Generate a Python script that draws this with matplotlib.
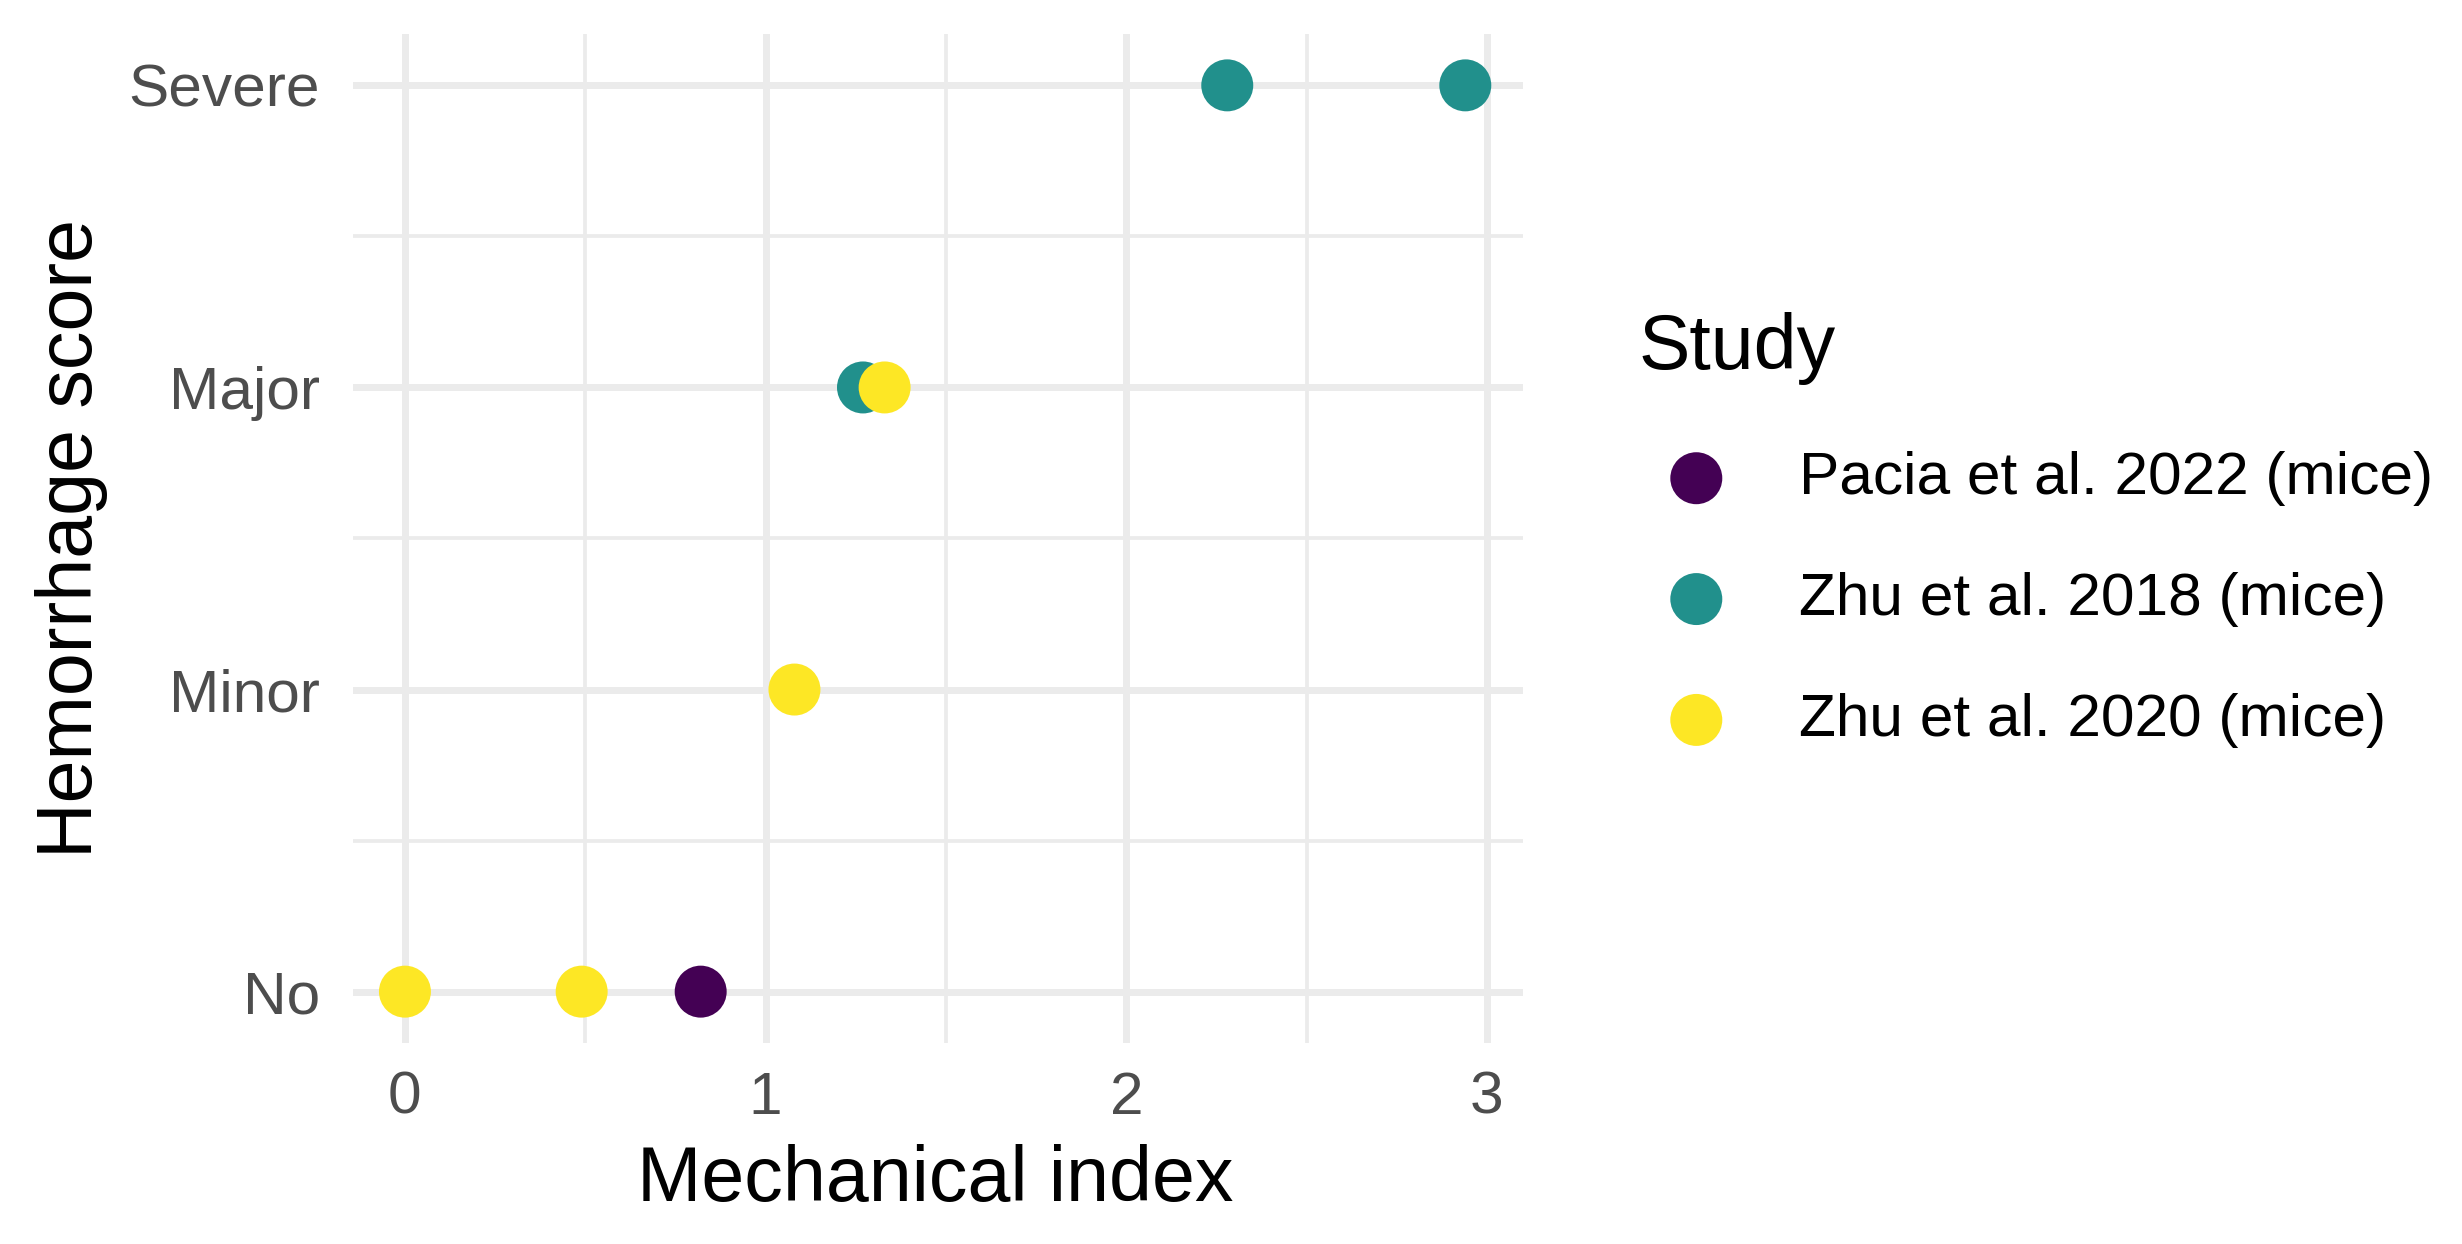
import matplotlib
matplotlib.use("Agg")
import matplotlib.pyplot as plt
from matplotlib.ticker import MultipleLocator

plt.rcParams['font.family'] = ['Liberation Sans', 'DejaVu Sans']

# data
score_labels = ["No", "Minor", "Major", "Severe"]
studies = ["Pacia et al. 2022 (mice)", "Zhu et al. 2018 (mice)", "Zhu et al. 2020 (mice)"]
colors = ["#440154", "#21908C", "#FDE725"]

pacia_mi = [0.82]
pacia_score = [0]
zhu2018_mi = [1.27, 2.28, 2.94]
zhu2018_score = [2, 3, 3]
zhu2020_mi = [0.0, 0.49, 1.08, 1.33]
zhu2020_score = [0, 0, 1, 2]

W, H = 2462, 1244
fig = plt.figure(figsize=(W / 100, H / 100), dpi=100)
ax = fig.add_axes([353 / W, 1 - 1043 / H, (1523 - 353) / W, (1043 - 34) / H])

series = [(pacia_mi, pacia_score), (zhu2018_mi, zhu2018_score), (zhu2020_mi, zhu2020_score)]
handles = []
for (mi, sc), lab, col in zip(series, studies, colors):
    h = ax.scatter(mi, sc, s=1400, color=col, edgecolors="none", label=lab, zorder=3)
    handles.append(h)

ax.set_xlim(-0.144, 3.1)
ax.set_ylim(-0.17, 3.17)
ax.xaxis.set_major_locator(MultipleLocator(1))
ax.xaxis.set_minor_locator(MultipleLocator(0.5))
ax.set_yticks(range(len(score_labels)))
ax.set_yticklabels(score_labels)
ax.set_yticks([0.5, 1.5, 2.5], minor=True)

ax.grid(which="major", color="#EBEBEB", lw=5)
ax.grid(which="minor", color="#EBEBEB", lw=2.7)
ax.set_axisbelow(True)
for s in ax.spines.values():
    s.set_visible(False)
ax.tick_params(which="both", length=0)
ax.tick_params(axis="x", labelsize=43.5, labelcolor="#4D4D4D", pad=20)
ax.tick_params(axis="y", labelsize=43.5, labelcolor="#4D4D4D", pad=24)

ax.set_xlabel("Mechanical index", fontsize=55.5)
ax.xaxis.set_label_coords(0.498, -0.136)
ax.xaxis.label.set_va("center")
ax.set_ylabel("Hemorrhage score", fontsize=55.5)
ax.yaxis.set_label_coords(-0.241, 0.5)
ax.yaxis.label.set_va("center")

leg = fig.legend(handles=handles, labels=studies, title="Study", loc="center left",
                 bbox_to_anchor=(1638 / W, 1 - 530 / H), frameon=False,
                 fontsize=43.5, title_fontsize=55.5, borderpad=0, borderaxespad=0,
                 handlelength=1.93, handletextpad=0.73, labelspacing=1.09,
                 alignment="left", scatterpoints=1)

fig.savefig("out.png", dpi=100, facecolor="white")
